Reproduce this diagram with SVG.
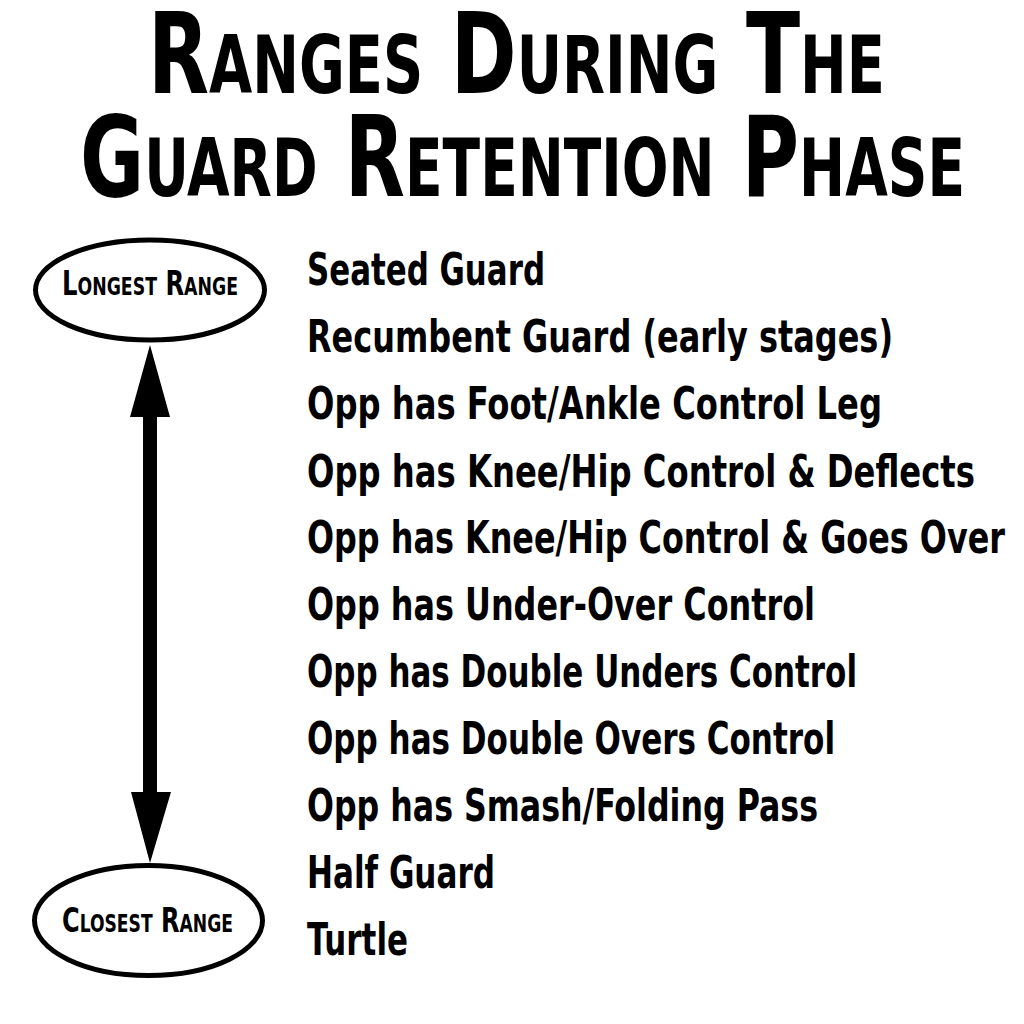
<svg xmlns="http://www.w3.org/2000/svg" width="1024" height="1024" viewBox="0 0 1024 1024">
<style>
.title{font-family:"DejaVu Sans Condensed","DejaVu Sans",sans-serif;font-weight:bold;font-size:87px;font-variant:small-caps;fill:#000}
.item{font-family:"DejaVu Sans Condensed","DejaVu Sans",sans-serif;font-weight:bold;font-size:36px;fill:#000}
.lbl{font-family:"DejaVu Sans Condensed","DejaVu Sans",sans-serif;font-weight:bold;font-size:28px;font-variant:small-caps;fill:#000}
.oval{fill:#fff;stroke:#000;stroke-width:5}
</style>
<rect width="1024" height="1024" fill="#fff"/>
<g id="title" transform="scale(1,1.3)">
<text class="title" x="148" y="71.54" textLength="737" lengthAdjust="spacingAndGlyphs">Ranges During The</text>
<text class="title" x="80" y="150.77" textLength="885" lengthAdjust="spacingAndGlyphs">Guard Retention Phase</text>
</g>
<g id="connectors">
<path d="M150,345 L170,417 L157,417 L157,792 L171,792 L150,863 L131,792 L143,792 L143,417 L130,417 Z" fill="#000"/>
</g>
<g id="node-longest">
<ellipse class="oval" cx="150" cy="290" rx="114.5" ry="50"/>
<text class="lbl" x="62" y="245.8" transform="scale(1,1.2)" textLength="176" lengthAdjust="spacingAndGlyphs">Longest Range</text>
</g>
<g id="node-closest">
<ellipse class="oval" cx="148.5" cy="920.5" rx="114" ry="55"/>
<text class="lbl" x="62" y="776.7" transform="scale(1,1.2)" textLength="171" lengthAdjust="spacingAndGlyphs">Closest Range</text>
</g>
<g id="list" transform="scale(1,1.25)">
<text class="item" x="307" y="228" textLength="238" lengthAdjust="spacingAndGlyphs">Seated Guard</text>
<text class="item" x="307" y="281.6" textLength="586" lengthAdjust="spacingAndGlyphs">Recumbent Guard (early stages)</text>
<text class="item" x="307" y="335.2" textLength="575" lengthAdjust="spacingAndGlyphs">Opp has Foot/Ankle Control Leg</text>
<text class="item" x="307" y="389.6" textLength="668" lengthAdjust="spacingAndGlyphs">Opp has Knee/Hip Control &amp; Deflects</text>
<text class="item" x="307" y="442.4" textLength="698" lengthAdjust="spacingAndGlyphs">Opp has Knee/Hip Control &amp; Goes Over</text>
<text class="item" x="307" y="496" textLength="508" lengthAdjust="spacingAndGlyphs">Opp has Under-Over Control</text>
<text class="item" x="307" y="549.6" textLength="550" lengthAdjust="spacingAndGlyphs">Opp has Double Unders Control</text>
<text class="item" x="307" y="603.2" textLength="528" lengthAdjust="spacingAndGlyphs">Opp has Double Overs Control</text>
<text class="item" x="307" y="656.8" textLength="511" lengthAdjust="spacingAndGlyphs">Opp has Smash/Folding Pass</text>
<text class="item" x="307" y="710.4" textLength="188" lengthAdjust="spacingAndGlyphs">Half Guard</text>
<text class="item" x="307" y="764" textLength="101" lengthAdjust="spacingAndGlyphs">Turtle</text>
</g>
</svg>
